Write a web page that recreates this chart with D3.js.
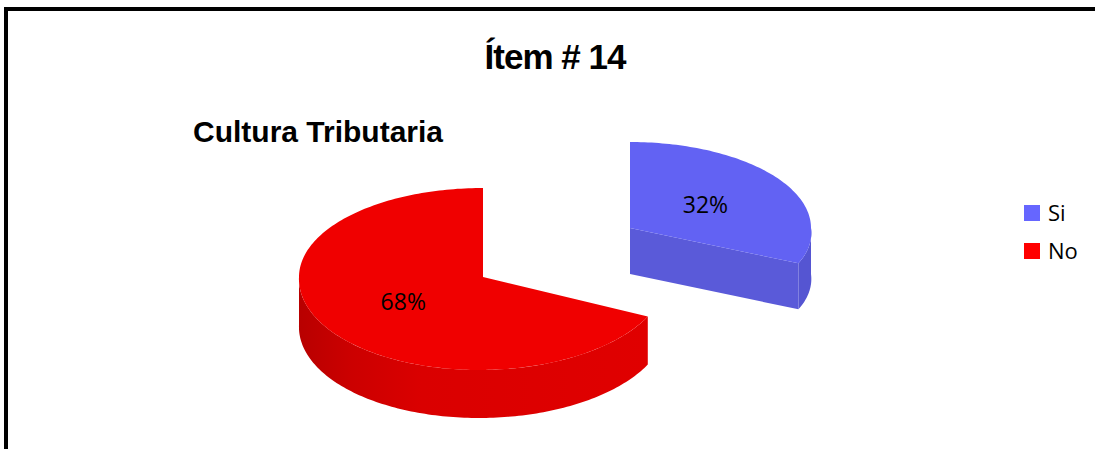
<!DOCTYPE html>
<html>
<head>
<meta charset="utf-8">
<script src="https://cdn.jsdelivr.net/npm/d3@7"></script>
<style>
  html, body { margin: 0; padding: 0; background: #fff; overflow: hidden; }
  svg { display: block; }
</style>
</head>
<body>
<div id="chart"></div>
<script>
// Item 14 exploded 3D pie
const categories = ['Si', 'No'];
const values = [32, 68];
const labels = ['32%', '68%'];

;(function () {
  const width = 1095;
  const height = 449;

  // Each slice has its own centre since the pie is exploded
  // skew nudges the front half of the rim sideways, for the perspective
  const geometry = {
    Si: { cx: 630, cy: 228, rx: 181, ryBack: 86, ryFront: 83, depth: 46, skew: 11 },
    No: { cx: 483, cy: 277, rx: 184, ryBack: 89, ryFront: 93, depth: 48, skew: -4 },
  };
  const colours = {
    Si: { legend: '#6666ff', top: '#6262f3', cut: '#5a5ad9', rim: '#5555d2' },
    No: { legend: '#ff0000', top: '#f00000', cut: '#dd0000', rim: 'url(#red-rim)' },
  };

  const svg = d3.select('#chart').append('svg')
    .attr('width', width)
    .attr('height', height);

  svg.append('rect')
    .attr('width', width)
    .attr('height', height)
    .attr('fill', '#fff');

  // Frame runs off the right and bottom of the picture
  svg.append('rect')
    .attr('x', 6)
    .attr('y', 9)
    .attr('width', width + 20)
    .attr('height', height + 20)
    .attr('fill', 'none')
    .attr('stroke', '#000')
    .attr('stroke-width', 4);

  const gradient = svg.append('defs').append('linearGradient')
    .attr('id', 'red-rim')
    .attr('gradientUnits', 'userSpaceOnUse')
    .attr('x1', 299)
    .attr('x2', 648)
    .attr('y1', 0)
    .attr('y2', 0);
  gradient.append('stop').attr('offset', 0).attr('stop-color', '#b80000');
  gradient.append('stop').attr('offset', 0.15).attr('stop-color', '#cc0000');
  gradient.append('stop').attr('offset', 0.35).attr('stop-color', '#da0000');
  gradient.append('stop').attr('offset', 1).attr('stop-color', '#e00000');

  const pie = d3.pie().sort(null);
  const slices = pie(values).map((d, i) => ({
    name: categories[i],
    label: labels[i],
    start: d.startAngle,
    end: d.endAngle,
    geo: geometry[categories[i]],
    colour: colours[categories[i]],
  }));

  function project (g, angle, f = 1, drop = 0) {
    const cos = Math.cos(angle);
    const ry = cos > 0 ? g.ryBack : g.ryFront;
    return [
      g.cx + g.rx * f * Math.sin(angle) + g.skew * f * Math.max(0, -cos),
      g.cy - ry * f * cos + drop,
    ];
  }

  function arcPoints (g, a0, a1, drop = 0) {
    const steps = Math.max(2, Math.ceil((a1 - a0) / 0.02));
    return d3.range(steps + 1).map(i => project(g, a0 + (a1 - a0) * i / steps, 1, drop));
  }

  const line = d3.line().curve(d3.curveLinear);

  // Side walls first, top faces go over them
  const pieGroup = svg.append('g').attr('class', 'pie');
  slices.forEach(s => {
    const g = s.geo;
    const a0 = Math.max(s.start, Math.PI / 2);
    const a1 = Math.min(s.end, Math.PI * 3 / 2);

    if (a1 > a0) {
      const rim = arcPoints(g, a0, a1).concat(arcPoints(g, a0, a1, g.depth).reverse());
      pieGroup.append('path')
        .attr('d', line(rim) + 'Z')
        .attr('fill', s.colour.rim);
    }

    // Cut face along the slice start, only seen when it points at the viewer
    if (s.end <= Math.PI) {
      const centre = [g.cx, g.cy];
      const edge = project(g, s.end);
      const cut = [centre, edge, [edge[0], edge[1] + g.depth], [g.cx, g.cy + g.depth]];
      pieGroup.append('path')
        .attr('d', line(cut) + 'Z')
        .attr('fill', s.colour.cut);
    }

    const top = [[g.cx, g.cy]].concat(arcPoints(g, s.start, s.end));
    pieGroup.append('path')
      .attr('d', line(top) + 'Z')
      .attr('fill', s.colour.top);
  });

  // Percent labels half way along the middle of each slice
  slices.forEach(s => {
    const [x, y] = project(s.geo, (s.start + s.end) / 2, 0.5);
    svg.append('text')
      .attr('x', x - 1)
      .attr('y', y + 8.5)
      .attr('text-anchor', 'middle')
      .attr('font-family', '"Open Sans", sans-serif')
      .attr('font-size', 23)
      .attr('fill', '#000')
      .text(s.label);
  });

  // Titles
  svg.append('text')
    .attr('x', 555)
    .attr('y', 69)
    .attr('text-anchor', 'middle')
    .attr('font-family', '"Liberation Sans", Arial, sans-serif')
    .attr('font-weight', 'bold')
    .attr('font-size', 35)
    .attr('letter-spacing', -1)
    .text('Ítem # 14');

  svg.append('text')
    .attr('x', 193)
    .attr('y', 142)
    .attr('font-family', '"Liberation Sans", Arial, sans-serif')
    .attr('font-weight', 'bold')
    .attr('font-size', 30)
    .text('Cultura Tributaria');

  // Legend
  const legendY = d3.scalePoint().domain(categories).range([213, 251]);
  const legend = svg.append('g').attr('class', 'legend')
    .selectAll('g')
    .data(categories)
    .enter().append('g')
      .attr('transform', d => `translate(1024 ${legendY(d)})`);

  legend.append('rect')
    .attr('y', -8)
    .attr('width', 16)
    .attr('height', 16)
    .attr('fill', d => colours[d].legend);

  legend.append('text')
    .attr('x', 24)
    .attr('y', 8)
    .attr('font-family', '"Open Sans", sans-serif')
    .attr('font-size', 22)
    .attr('fill', '#000')
    .text(d => d);
})();
</script>
</body>
</html>
